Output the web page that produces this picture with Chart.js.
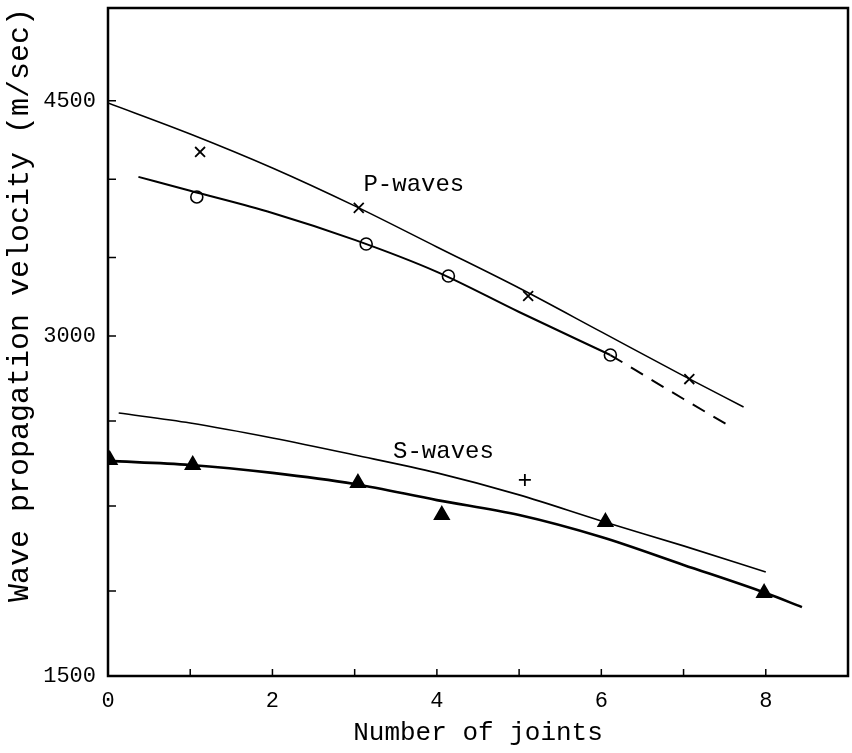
<!DOCTYPE html>
<html><head><meta charset="utf-8">
<script src="https://cdn.jsdelivr.net/npm/chart.js@4/dist/chart.umd.min.js"></script>
<style>html,body{margin:0;padding:0;background:#fff}canvas{display:block}</style>
</head><body>
<canvas id="c" width="852" height="753"></canvas>
<script>
// ---- Data ----
// P-waves, "x" markers
const pCrossX = [1.12, 3.05, 5.11, 7.07];
const pCrossV = [4174, 3817, 3255, 2810];
// P-waves, open circles
const pCircleX = [1.08, 3.14, 4.14, 6.11];
const pCircleV = [3887, 3587, 3383, 2916];
// S-waves, filled triangles
const sTriX = [0.02, 1.03, 3.04, 4.06, 6.05, 7.98];
const sTriV = [2453, 2431, 2351, 2210, 2179, 1866];
// S-waves, "+" marker
const sPlusX = [5.07];
const sPlusV = [2365];
// Fitted curves
const pUpperX = [0, 1, 2, 3, 4, 5, 6, 7, 7.73];
const pUpperV = [4487, 4289, 4072, 3830, 3568, 3306, 3026, 2824, 2687];
const pLowerX = [0.37, 1, 2, 3, 4, 5, 6.11];
const pLowerV = [4015, 3926, 3785, 3613, 3409, 3153, 2916];
const pDashX = [6.11, 7, 7.54];
const pDashV = [2916, 2722, 2607];
const sUpperX = [0.13, 1, 2, 3, 4, 5, 6, 7, 8];
const sUpperV = [2660, 2616, 2550, 2475, 2396, 2299, 2184, 2074, 1959];
const sLowerX = [0, 1, 2, 3, 4, 5, 6, 7, 8, 8.44];
const sLowerV = [2449, 2431, 2396, 2347, 2276, 2210, 2113, 1990, 1866, 1804];
// Axis ticks
const xTickValues = [0, 1, 2, 3, 4, 5, 6, 7, 8, 9];
const xTickLabels = ['0', '', '2', '', '4', '', '6', '', '8', ''];
const yTickValues = [1500, 1875, 2250, 2625, 3000, 3500, 4000, 4500];
const yTickLabels = ['1500', '', '', '', '3000', '', '', '4500'];
// Curve labels
const curveLabels = ['P-waves', 'S-waves'];
const curveLabelX = [3.72, 4.08];
const curveLabelV = [3964, 2488];
// Y axis scale breaks of the original (uneven) graduation
const yBreakValues = [1500, 3000, 4500, 5100];
const yBreakFractions = [0, 0.509, 0.861, 1];

const zip = (xs, ys) => xs.map((x, i) => ({x: x, y: ys[i]}));

// ---- Piecewise-linear value axis (the printed axis is not evenly graduated) ----
class PiecewiseScale extends Chart.LinearScale {
  _toFrac(v) {
    const b = yBreakValues, f = yBreakFractions;
    let i = 0;
    while (i < b.length - 2 && v > b[i + 1]) i++;
    return f[i] + (v - b[i]) / (b[i + 1] - b[i]) * (f[i + 1] - f[i]);
  }
  _fromFrac(d) {
    const b = yBreakValues, f = yBreakFractions;
    let i = 0;
    while (i < f.length - 2 && d > f[i + 1]) i++;
    return b[i] + (d - f[i]) / (f[i + 1] - f[i]) * (b[i + 1] - b[i]);
  }
  getPixelForValue(v) {
    if (v === null || v === undefined || isNaN(v)) return NaN;
    return this.getPixelForDecimal(this._toFrac(v));
  }
  getValueForPixel(p) {
    return this._fromFrac(this.getDecimalForPixel(p));
  }
}
PiecewiseScale.id = 'piecewise';
PiecewiseScale.defaults = Chart.LinearScale.defaults;
Chart.register(PiecewiseScale);

Chart.defaults.font.family = '"Liberation Mono", "DejaVu Sans Mono", monospace';
Chart.defaults.color = '#000';

const framePlugin = {
  id: 'frame',
  afterDraw(chart) {
    const {ctx, chartArea: a, scales} = chart;
    ctx.save();
    ctx.strokeStyle = '#000';
    ctx.lineWidth = 2.5;
    ctx.strokeRect(a.left, a.top, a.right - a.left, a.bottom - a.top);
    ctx.lineWidth = 1.5;
    ctx.beginPath();
    scales.x.ticks.forEach(t => {
      if (t.value <= 0 || t.value >= 9) return;
      const px = scales.x.getPixelForValue(t.value);
      ctx.moveTo(px, a.bottom); ctx.lineTo(px, a.bottom - 7);
    });
    scales.y.ticks.forEach(t => {
      if (t.value <= yTickValues[0]) return;
      const py = scales.y.getPixelForValue(t.value);
      ctx.moveTo(a.left, py); ctx.lineTo(a.left + 8, py);
    });
    ctx.stroke();
    ctx.restore();
  }
};

const labelPlugin = {
  id: 'curveLabels',
  afterDatasetsDraw(chart) {
    const {ctx, scales} = chart;
    ctx.save();
    ctx.fillStyle = '#000';
    ctx.font = '24px "Liberation Mono", "DejaVu Sans Mono", monospace';
    ctx.textAlign = 'center';
    ctx.textBaseline = 'middle';
    curveLabels.forEach((t, i) => {
      ctx.fillText(t, scales.x.getPixelForValue(curveLabelX[i]), scales.y.getPixelForValue(curveLabelV[i]));
    });
    ctx.restore();
  }
};

const lineDs = (xs, vs, w, dash) => ({
  type: 'line', data: zip(xs, vs), borderColor: '#000', borderWidth: w,
  borderDash: dash || [], pointRadius: 0, tension: 0.4, cubicInterpolationMode: 'monotone', fill: false
});
const markDs = (xs, vs, style, r, bg, bw) => ({
  type: 'scatter', data: zip(xs, vs), pointStyle: style, pointRadius: r,
  pointBackgroundColor: bg, pointBorderColor: '#000', pointBorderWidth: bw, showLine: false
});

new Chart(document.getElementById('c'), {
  data: {
    datasets: [
      lineDs(pUpperX, pUpperV, 1.6),
      lineDs(pLowerX, pLowerV, 2),
      lineDs(pDashX, pDashV, 2, [14, 10]),
      lineDs(sUpperX, sUpperV, 1.6),
      lineDs(sLowerX, sLowerV, 2.6),
      markDs(pCrossX, pCrossV, 'crossRot', 7, '#000', 1.8),
      markDs(pCircleX, pCircleV, 'circle', 6, '#fff', 1.6),
      markDs(sTriX, sTriV, 'triangle', 8.5, '#000', 1.5),
      markDs(sPlusX, sPlusV, 'cross', 6, '#000', 1.8)
    ]
  },
  options: {
    responsive: false,
    animation: false,
    devicePixelRatio: 1,
    layout: {autoPadding: false, padding: {top: 8, right: 4, left: 0, bottom: 0}},
    plugins: {legend: {display: false}, tooltip: {enabled: false}},
    scales: {
      x: {
        type: 'linear', min: 0, max: 9,
        grid: {display: false, drawTicks: false},
        border: {display: false},
        afterBuildTicks: s => { s.ticks = xTickValues.map(v => ({value: v})); },
        ticks: {
          autoSkip: false, maxRotation: 0, padding: 12,
          font: {size: 22},
          callback: (v) => xTickLabels[xTickValues.indexOf(v)] ?? ''
        },
        title: {display: true, text: 'Number of joints', font: {size: 26}, padding: {top: 0, bottom: 4}},
        afterFit: s => { s.height = 77; s.paddingLeft = 0; s.paddingRight = 0; }
      },
      y: {
        type: 'piecewise', min: 1500, max: 5100,
        grid: {display: false, drawTicks: false},
        border: {display: false},
        afterBuildTicks: s => { s.ticks = yTickValues.map(v => ({value: v})); },
        ticks: {
          autoSkip: false, padding: 12,
          font: {size: 22},
          callback: (v) => yTickLabels[yTickValues.indexOf(v)] ?? ''
        },
        title: {display: true, text: 'Wave propagation velocity (m/sec)', align: 'end', font: {size: 30}, padding: {top: 2, bottom: 0}},
        afterFit: s => { s.width = 108; s.paddingTop = 0; s.paddingBottom = 0; }
      }
    }
  },
  plugins: [framePlugin, labelPlugin]
});
</script>
</body></html>
